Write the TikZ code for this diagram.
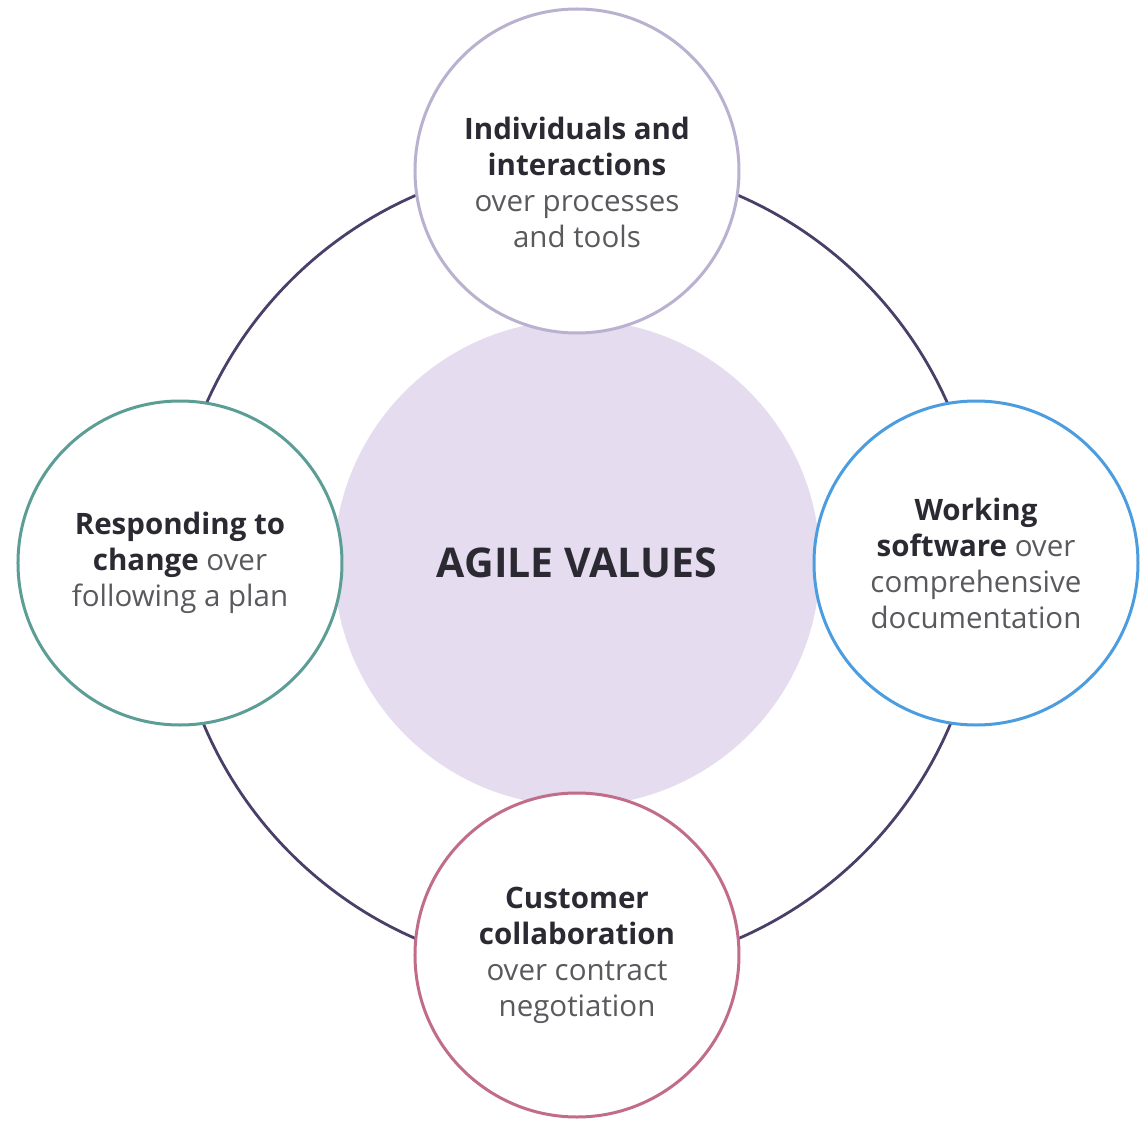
\documentclass[tikz,border=0pt]{standalone}
\usepackage{fontspec}
\setmainfont{Open Sans}
\usetikzlibrary{backgrounds}

\definecolor{ringcol}{HTML}{4A3F68}
\definecolor{hubcol}{HTML}{E5DCEF}
\definecolor{indivcol}{HTML}{B9B1CF}
\definecolor{softcol}{HTML}{4B9DE0}
\definecolor{custcol}{HTML}{C16C88}
\definecolor{changecol}{HTML}{5C9E95}
\definecolor{headcol}{HTML}{2B2A33}
\definecolor{bodycol}{HTML}{5A5A5E}

\newcommand{\hd}[1]{\textcolor{headcol}{\textbf{#1}}}

\begin{document}
\begin{tikzpicture}[node distance=196pt,
    font=\fontsize{14.75}{18}\selectfont,
    hub/.style={circle, fill=hubcol, minimum size=243pt, inner sep=0pt,
        text=headcol, font=\fontsize{20.5}{24}\selectfont\bfseries},
    value/.style={circle, fill=white, line width=1.5pt, minimum size=162pt,
        inner sep=0pt, align=center, text=bodycol},
    ring/.style={draw=ringcol, line width=1.4pt}]
    \useasboundingbox (-288.5pt,-278.5pt) rectangle (282pt,281.5pt);

    % Nodes {agile, indiv, soft, cust, change}
    \node [hub]                       (agile)                    {AGILE VALUES};
    \node [value, draw=indivcol]      (indiv)   [above of=agile] {\rule{0pt}{23pt}\hd{Individuals and}\\ \hd{interactions}\\ over processes\\ and tools};
    \node [value, draw=softcol]       (soft)    [right of=agile, node distance=199.5pt] {\hd{Working}\\ \hd{software} over\\ comprehensive\\ documentation};
    \node [value, draw=custcol]       (cust)    [below of=agile] {\hd{Customer}\\ \hd{collaboration}\\ over contract\\ negotiation};
    \node [value, draw=changecol]     (change)  [left of=agile, node distance=198.5pt]  {\hd{Responding to}\\ \hd{change} over\\ following a plan};

    % Ring behind the circles
    \begin{pgfonlayer}{background}
    \path [ring] ([yshift=-2pt]agile.center) circle [radius=202.5pt];
    \end{pgfonlayer}

\end{tikzpicture}
\end{document}
